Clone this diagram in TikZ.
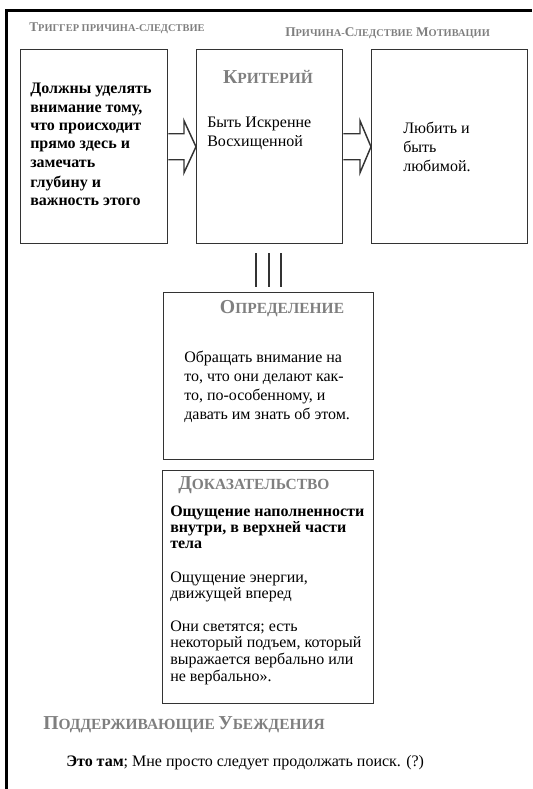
\documentclass[tikz,border=0pt]{standalone}
\usepackage{fontspec}
\setmainfont{Liberation Serif}
\usetikzlibrary{calc}
\definecolor{ttl}{HTML}{7F7F7F}
\definecolor{edge}{HTML}{333333}
\newcommand\tsc[2]{{\fontsize{14.8}{14.8}\selectfont #1}{\fontsize{11.6}{11.6}\selectfont #2}}
\newcommand\hsc[2]{{\fontsize{10}{10}\selectfont #1}{\fontsize{7.8}{7.8}\selectfont #2}}
\begin{document}
\begin{tikzpicture}[x=0.75pt,y=-0.75pt,
  box/.style={draw=edge,line width=1.1pt,anchor=north west,inner sep=0pt},
  txt/.style={anchor=base west,inner sep=0pt,font=\fontsize{12}{14}\selectfont},
  btxt/.style={txt,font=\fontsize{12}{14}\selectfont\bfseries},
  ttlbl/.style={inner sep=0pt,text=ttl,font=\bfseries},
  hdr/.style={anchor=base west,inner sep=0pt,text=ttl,font=\bfseries},
  arr/.style={draw=edge,line width=1.1pt,line join=miter},
  triple/.style={draw=edge,line width=1.5pt}]
\useasboundingbox (0,0) rectangle (532,789);
% frame
\draw[line width=2.3pt] (532,10.5) -- (6.5,10.5) -- (6.5,789);
% headers
\node[hdr] (h1) at (29,31) {\hsc{Т}{РИГГЕР ПРИЧИНА-СЛЕДСТВИЕ}};
\node[hdr] (h2) at (285,36) {\hsc{П}{РИЧИНА-}\hsc{С}{ЛЕДСТВИЕ} \hsc{М}{ОТИВАЦИИ}};
% boxes
\node[box,minimum width=110.25pt,minimum height=145.5pt] (b1) at (20,49) {};
\node[box,minimum width=109.5pt,minimum height=145.5pt] (b2) at (196,49) {};
\node[box,minimum width=117pt,minimum height=145.5pt] (b3) at (371,49) {};
\node[box,minimum width=157.5pt,minimum height=125.25pt] (b4) at (163,292) {};
\node[box,minimum width=158.25pt,minimum height=174.75pt] (b5) at (162,470) {};
% block arrows
\draw[arr] ($(b1.east)+(0,-13)$) -- ($(b2.west)+(-12,-13)$) -- ($(b2.west)+(-12,-26)$) -- (b2.west)
  -- ($(b2.west)+(-12,26)$) -- ($(b2.west)+(-12,13)$) -- ($(b1.east)+(0,13)$);
\draw[arr] ($(b2.east)+(0,-13)$) -- ($(b3.west)+(-11,-13)$) -- ($(b3.west)+(-11,-26)$) -- (b3.west)
  -- ($(b3.west)+(-11,26)$) -- ($(b3.west)+(-11,13)$) -- ($(b2.east)+(0,13)$);
% triple line
\foreach \dx in {-14,-1,11}
  \draw[triple] ($(b2.south)+(\dx,9)$) -- ($(b2.south)+(\dx,43)$);
% box 1 text
\node[btxt] (t11) at (30,93) {Должны уделять};
\node[btxt] (t12) at (30,112) {внимание тому,};
\node[btxt] (t13) at (30,130) {что происходит};
\node[btxt] (t14) at (30,148) {прямо здесь и};
\node[btxt] (t15) at (30,167) {замечать};
\node[btxt] (t16) at (30,187) {глубину и};
\node[btxt] (t17) at (30,205) {важность этого};
% box 2
\node[ttlbl,anchor=base] (k) at (268,83) {\tsc{К}{РИТЕРИЙ}};
\node[txt] (t21) at (207,127) {Быть Искренне};
\node[txt] (t22) at (207,146) {Восхищенной};
% box 3
\node[txt] (t31) at (403,133) {Любить и};
\node[txt] (t32) at (403,152) {быть};
\node[txt] (t33) at (403,171) {любимой.};
% box 4
\node[ttlbl,anchor=base] (o) at (282,313) {\tsc{О}{ПРЕДЕЛЕНИЕ}};
\node[txt] (t41) at (184,362) {Обращать внимание на};
\node[txt] (t42) at (184,381) {то, что они делают как-};
\node[txt] (t43) at (184,400) {то, по-особенному, и};
\node[txt] (t44) at (184,419) {давать им знать об этом.};
% box 5
\node[ttlbl,anchor=base west] (d) at (178,489) {\tsc{Д}{ОКАЗАТЕЛЬСТВО}};
\node[btxt] (t51) at (170,516) {Ощущение наполненности};
\node[btxt] (t52) at (170,532) {внутри, в верхней части};
\node[btxt] (t53) at (170,548) {тела};
\node[txt] (t54) at (170,582) {Ощущение энергии,};
\node[txt] (t55) at (170,598) {движущей вперед};
\node[txt] (t56) at (170,631) {Они светятся; есть};
\node[txt] (t57) at (170,647) {некоторый подъем, который};
\node[txt] (t58) at (170,664) {выражается вербально или};
\node[txt] (t59) at (170,681) {не вербально».};
% bottom
\node[ttlbl,anchor=base west] (p) at (43,729) {\tsc{П}{ОДДЕРЖИВАЮЩИЕ} \tsc{У}{БЕЖДЕНИЯ}};
\node[txt] (s) at (66,766) {\textbf{Это там}; Мне просто следует продолжать поиск. (?)};
\end{tikzpicture}
\end{document}
